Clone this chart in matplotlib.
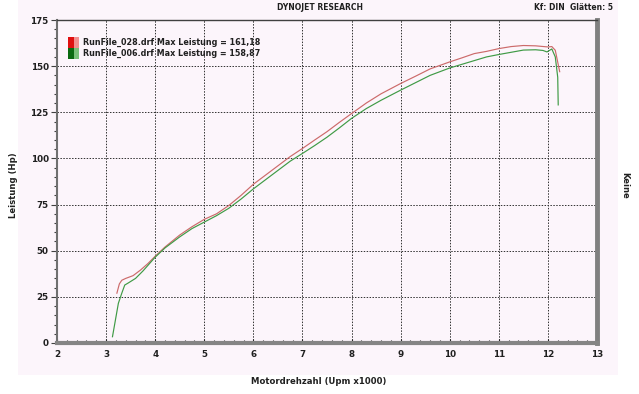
import numpy as np
import matplotlib
matplotlib.use('Agg')
import matplotlib.pyplot as plt
from matplotlib.patches import Rectangle
from matplotlib.ticker import MultipleLocator

# RunFile_028 (red)
rpm_028 = [3.22, 3.27, 3.32, 3.40, 3.55, 3.70, 3.85, 4.00, 4.20, 4.50, 4.75,
           5.00, 5.25, 5.50, 5.75, 6.00, 6.25, 6.50, 6.75, 7.00, 7.25, 7.50,
           7.75, 8.00, 8.30, 8.60, 9.00, 9.30, 9.60, 10.0, 10.25, 10.50,
           10.75, 11.00, 11.25, 11.50, 11.75, 12.00, 12.08, 12.15, 12.24]
hp_028 = [27, 32, 34, 35, 36.5, 39.5, 43, 47, 52, 58.5, 63,
          67, 70, 74.5, 80, 86, 91, 96, 101, 105.4, 110, 114.5,
          119.5, 124.3, 130, 135, 140.6, 144.5, 148.5, 152.3, 154.5, 156.8,
          158, 159.5, 160.6, 161.18, 161, 160.4, 160.6, 158.6, 147]

# RunFile_006 (green)
rpm_006 = [3.13, 3.25, 3.32, 3.38, 3.45, 3.60, 3.75, 4.00, 4.20, 4.50, 4.75,
           5.00, 5.25, 5.50, 5.75, 6.00, 6.25, 6.50, 6.75, 7.00, 7.25, 7.50,
           7.75, 8.00, 8.30, 8.60, 9.00, 9.30, 9.60, 10.0, 10.25, 10.50,
           10.75, 11.00, 11.25, 11.50, 11.75, 11.90, 11.98, 12.08, 12.15,
           12.20, 12.21]
hp_006 = [3.4, 21.5, 27, 31.4, 32.5, 35, 39, 46.5, 51.5, 57.5, 62,
          65.5, 69, 73, 78, 83.5, 88.5, 93.5, 98.5, 102.7, 107, 111.5,
          116.5, 121.7, 127, 131.5, 137, 141, 145, 149, 151, 153,
          155, 156.3, 157.5, 158.7, 158.87, 158.5, 157.7, 159.3, 155,
          144, 129]

legend_labels = ['RunFile_028.drf Max Leistung = 161,18',
                 'RunFile_006.drf Max Leistung = 158,87']

bg = '#fcf5fb'
red = '#cc6a6a'
green = '#3f9a45'

W, H = 639, 394
fig = plt.figure(figsize=(W / 100, H / 100), dpi=100, facecolor='white')

# pink panel behind everything
fig.patches.append(Rectangle((18 / W, 1 - 375 / H), 600 / W, 375 / H,
                             transform=fig.transFigure, facecolor=bg,
                             edgecolor='none', zorder=-10))

ax = fig.add_axes([57 / W, 1 - 343 / H, 540 / W, 323 / H], facecolor=bg)

ax.plot(rpm_028, hp_028, color=red, lw=0.85, zorder=3)
ax.plot(rpm_006, hp_006, color=green, lw=0.85, zorder=3)

ax.set_xlim(2, 13)
ax.set_ylim(0, 175)
ax.xaxis.set_major_locator(MultipleLocator(1))
ax.xaxis.set_minor_locator(MultipleLocator(0.2))
ax.yaxis.set_major_locator(MultipleLocator(25))
ax.yaxis.set_minor_locator(MultipleLocator(5))

ax.grid(True, which='major', color='#303030', ls=(0, (1.5, 1.5)), lw=0.7)

ax.spines['left'].set_color('#707070')
ax.spines['left'].set_linewidth(1.5)
ax.spines['bottom'].set_color('#858585')
ax.spines['bottom'].set_linewidth(3)
ax.spines['right'].set_color('#808080')
ax.spines['right'].set_linewidth(3.5)
ax.spines['top'].set_color('#404040')
ax.spines['top'].set_linewidth(1)

ax.tick_params(axis='y', which='major', direction='out', length=4,
               width=0.8, color='#404040', pad=2, labelsize=6.3)
ax.tick_params(axis='y', which='minor', direction='out', length=2.5,
               width=0.8, color='#404040')
ax.tick_params(axis='x', which='major', direction='in', length=3,
               width=0.8, color='#202020', pad=5, labelsize=6.3)
ax.tick_params(axis='x', which='minor', direction='in', length=2,
               width=0.8, color='#202020')
for lbl in ax.get_xticklabels() + ax.get_yticklabels():
    lbl.set_fontweight('bold')
    lbl.set_color('#202020')

# header texts
fig.text(320 / W, 1 - 7 / H, 'DYNOJET RESEARCH', ha='center', va='center',
         fontsize=5.5, fontweight='bold', color='#202020')
fig.text(613 / W, 1 - 7 / H, 'Kf: DIN  Glätten: 5', ha='right', va='center',
         fontsize=5.5, fontweight='bold', color='#202020')

# axis labels
fig.text(319 / W, 1 - 382 / H, 'Motordrehzahl (Upm x1000)', ha='center',
         va='center', fontsize=6.1, fontweight='bold', color='#202020')
fig.text(13 / W, 1 - 185 / H, 'Leistung (Hp)', ha='center', va='center',
         rotation=90, fontsize=6.1, fontweight='bold', color='#202020')
fig.text(625 / W, 1 - 185 / H, 'Keine', ha='center', va='center',
         rotation=270, fontsize=6, fontweight='bold', color='#202020')

# legend with two-tone swatches
swatches = [('#e01010', '#f29090'), ('#0a6a10', '#78c078')]
for i, (label, (dark, light)) in enumerate(zip(legend_labels, swatches)):
    y = 37 + i * 11
    fig.patches.append(Rectangle((68 / W, 1 - (y + 11) / H), 5.5 / W, 11 / H,
                                 transform=fig.transFigure, facecolor=dark,
                                 edgecolor='none', zorder=5))
    fig.patches.append(Rectangle((73.5 / W, 1 - (y + 11) / H), 5.5 / W, 11 / H,
                                 transform=fig.transFigure, facecolor=light,
                                 edgecolor='none', zorder=5))
    fig.text(83 / W, 1 - (y + 5.5) / H, label, ha='left', va='center',
             fontsize=5.8, fontweight='bold', color='#202020', zorder=6)

fig.savefig('out.png', dpi=100, facecolor=fig.get_facecolor())
